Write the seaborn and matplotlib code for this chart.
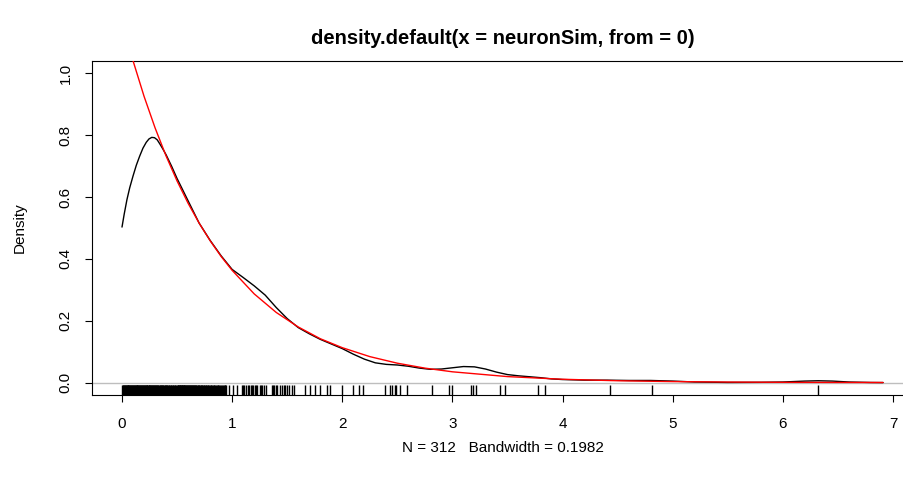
import matplotlib
matplotlib.use("Agg")
import matplotlib.pyplot as plt
import seaborn as sns
import pandas as pd

# ---- data ----
rug_x = [
    0.003, 0.008, 0.012, 0.016, 0.021, 0.025, 0.029, 0.034, 0.038, 0.041, 0.046, 0.051, 0.055,
    0.058, 0.063, 0.067, 0.072, 0.076, 0.079, 0.084, 0.088, 0.093, 0.097, 0.101, 0.106, 0.111,
    0.114, 0.118, 0.123, 0.127, 0.132, 0.136, 0.139, 0.144, 0.149, 0.153, 0.157, 0.162, 0.166,
    0.171, 0.174, 0.178, 0.183, 0.188, 0.192, 0.196, 0.201, 0.205, 0.209, 0.214, 0.218, 0.223,
    0.227, 0.231, 0.236, 0.241, 0.244, 0.249, 0.253, 0.258, 0.262, 0.266, 0.271, 0.276, 0.281,
    0.285, 0.289, 0.294, 0.299, 0.303, 0.308, 0.312, 0.317, 0.322, 0.326, 0.331, 0.336, 0.341,
    0.345, 0.351, 0.356, 0.361, 0.366, 0.371, 0.376, 0.381, 0.386, 0.392, 0.397, 0.402, 0.408,
    0.413, 0.419, 0.424, 0.430, 0.436, 0.442, 0.447, 0.453, 0.459, 0.466, 0.472, 0.478, 0.485,
    0.491, 0.498, 0.505, 0.509, 0.512, 0.516, 0.519, 0.523, 0.526, 0.530, 0.533, 0.537, 0.541,
    0.545, 0.548, 0.552, 0.556, 0.560, 0.563, 0.567, 0.571, 0.575, 0.579, 0.584, 0.588, 0.592,
    0.596, 0.600, 0.604, 0.609, 0.613, 0.617, 0.622, 0.627, 0.631, 0.636, 0.641, 0.646, 0.650,
    0.655, 0.660, 0.665, 0.670, 0.676, 0.681, 0.686, 0.691, 0.697, 0.702, 0.708, 0.713, 0.719,
    0.724, 0.730, 0.736, 0.742, 0.748, 0.754, 0.760, 0.766, 0.772, 0.779, 0.785, 0.791, 0.798,
    0.804, 0.811, 0.818, 0.825, 0.832, 0.839, 0.846, 0.853, 0.861, 0.868, 0.876, 0.883, 0.891,
    0.898, 0.906, 0.914, 0.922, 0.931, 0.939, 0.948, 0.975, 1.005, 1.040, 1.09, 1.10, 1.11,
    1.13, 1.14, 1.15, 1.17, 1.18, 1.19, 1.21, 1.22, 1.23, 1.25, 1.26, 1.27, 1.29, 1.31, 1.36,
    1.37, 1.38, 1.40, 1.41, 1.43, 1.45, 1.47, 1.48, 1.50, 1.52, 1.54, 1.56, 1.66, 1.71, 1.75,
    1.80, 1.86, 1.89, 2.00, 2.10, 2.15, 2.19, 2.39, 2.43, 2.45, 2.48, 2.49, 2.52, 2.59, 2.81,
    2.97, 3.00, 3.17, 3.19, 3.21, 3.43, 3.48, 3.78, 3.84, 4.43, 4.81, 6.32,
]

kde_x = [0.00, 0.02, 0.045, 0.07, 0.10, 0.13, 0.16, 0.19, 0.22, 0.245, 0.27, 0.295, 0.32,
         0.345, 0.37, 0.40, 0.45, 0.50, 0.60, 0.70, 0.80, 0.90, 1.00, 1.10, 1.20, 1.30, 1.40,
         1.50, 1.60, 1.70, 1.80, 1.90, 2.00, 2.10, 2.20, 2.30, 2.40, 2.50, 2.60, 2.70, 2.80,
         2.90, 3.00, 3.10, 3.20, 3.30, 3.40, 3.50, 3.60, 3.70, 3.80, 3.90, 4.00, 4.20, 4.40,
         4.60, 4.80, 5.00, 5.20, 5.50, 5.80, 6.00, 6.20, 6.32, 6.45, 6.60, 6.80, 6.91]
kde_y = [0.503, 0.545, 0.592, 0.630, 0.668, 0.703, 0.732, 0.758, 0.777, 0.788, 0.793, 0.792,
         0.785, 0.771, 0.756, 0.737, 0.700, 0.660, 0.588, 0.516, 0.460, 0.410, 0.366, 0.340,
         0.313, 0.283, 0.243, 0.207, 0.178, 0.158, 0.140, 0.125, 0.110, 0.092, 0.076, 0.064,
         0.059, 0.057, 0.053, 0.047, 0.043, 0.044, 0.048, 0.052, 0.051, 0.044, 0.034, 0.026,
         0.022, 0.019, 0.016, 0.012, 0.010, 0.008, 0.008, 0.007, 0.007, 0.005, 0.002, 0.0006,
         0.001, 0.002, 0.005, 0.006, 0.005, 0.002, 0.0005, 0.0002]

exp_x = [0.0, 0.1, 0.2, 0.3, 0.4, 0.5, 0.6, 0.7, 0.8, 0.9, 1.0, 1.2, 1.4, 1.6, 1.8, 2.0,
         2.25, 2.5, 2.75, 3.0, 3.5, 4.0, 4.5, 5.0, 5.5, 6.0, 6.5, 6.91]
exp_y = [1.170, 1.041, 0.926, 0.824, 0.733, 0.652, 0.580, 0.516, 0.459, 0.408, 0.363, 0.287,
         0.227, 0.180, 0.142, 0.113, 0.0841, 0.0628, 0.0469, 0.0350, 0.0195, 0.0109, 0.0061,
         0.0034, 0.0019, 0.0010, 0.0006, 0.0004]

x_ticks = [0, 1, 2, 3, 4, 5, 6, 7]
y_ticks = [0.0, 0.2, 0.4, 0.6, 0.8, 1.0]
y_tick_labels = ["0.0", "0.2", "0.4", "0.6", "0.8", "1.0"]

title = "density.default(x = neuronSim, from = 0)"
xlabel = "N = 312   Bandwidth = 0.1982"
ylabel = "Density"

# ---- style ----
sns.set_theme(style="ticks")
plt.rcParams["font.family"] = ["Liberation Sans", "DejaVu Sans"]

W, H = 904, 482
fig = plt.figure(figsize=(W / 100, H / 100), dpi=100)
ax_left, ax_right, ax_top, ax_bottom = 92, 913.5, 61, 395
ax = fig.add_axes([ax_left / W, 1 - ax_bottom / H, (ax_right - ax_left) / W, (ax_bottom - ax_top) / H])

ax.axhline(0, color="#BEBEBE", lw=1.0, zorder=1)

kde_df = pd.DataFrame({"x": kde_x, "y": kde_y})
exp_df = pd.DataFrame({"x": exp_x, "y": exp_y})
sns.lineplot(data=kde_df, x="x", y="y", ax=ax, color="black", lw=1.0, sort=False, zorder=3)
sns.lineplot(data=exp_df, x="x", y="y", ax=ax, color="red", lw=1.0, sort=False, zorder=4)
sns.rugplot(x=rug_x, ax=ax, height=0.03, color="black", lw=0.7, expand_margins=False, zorder=2)

ax.set_xlim(-0.2724, 7.186)
ax.set_ylim(-0.04, 1.04)

ax.set_xticks(x_ticks)
ax.set_xticklabels([str(t) for t in x_ticks])
ax.set_yticks(y_ticks)
ax.set_yticklabels(y_tick_labels, rotation=90, va="center")

for sp in ax.spines.values():
    sp.set_color("black")
    sp.set_linewidth(0.8)
    sp.set_visible(True)

ax.tick_params(axis="both", direction="out", length=5, width=0.8, color="black",
               labelsize=11, labelcolor="black")
ax.tick_params(axis="x", pad=11)
ax.tick_params(axis="y", pad=9)

ax.set_title(title, fontsize=14.5, fontweight="bold", pad=12, color="black")
ax.set_xlabel(xlabel, fontsize=11, labelpad=7, color="black")
ax.set_ylabel(ylabel, fontsize=11, labelpad=23, color="black")
ax.grid(False)
ax.set_facecolor("white")
fig.patch.set_facecolor("white")

fig.savefig("out.png", dpi=100, facecolor="white")
